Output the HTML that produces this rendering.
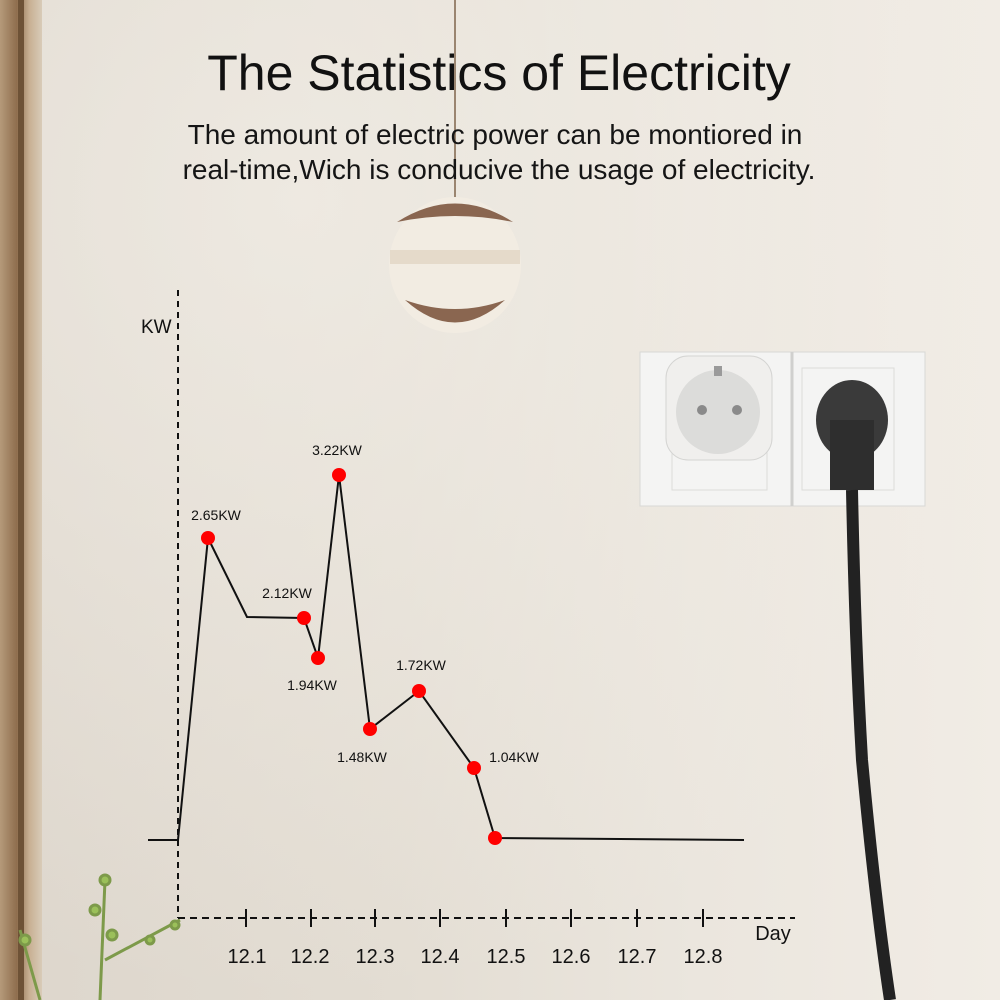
<!DOCTYPE html>
<html><head><meta charset="utf-8"><style>
html,body{margin:0;padding:0;width:1000px;height:1000px;overflow:hidden}
body{background:linear-gradient(90deg,#ddd6cc 0%,#e3ddd3 40%,#ebe6de 70%,#f1ece5 100%)}
svg{position:absolute;left:0;top:0}
</style></head><body>
<svg width="1000" height="1000" viewBox="0 0 1000 1000" font-family="'Liberation Sans',sans-serif">
<defs>
<linearGradient id="wood" x1="0" x2="1"><stop offset="0" stop-color="#b59a7a"/><stop offset="0.4" stop-color="#8f6e4e"/><stop offset="0.7" stop-color="#c8b093"/><stop offset="1" stop-color="#d8cbb8"/></linearGradient>
<radialGradient id="glow" cx="0.3" cy="0.2" r="0.8"><stop offset="0" stop-color="#f3efe8" stop-opacity="0.7"/><stop offset="1" stop-color="#f3efe8" stop-opacity="0"/></radialGradient>
</defs>
<rect x="0" y="0" width="1000" height="1000" fill="url(#glow)"/>
<rect x="0" y="0" width="42" height="1000" fill="url(#wood)"/>
<rect x="18" y="0" width="6" height="1000" fill="#6e5236"/>
<!-- lamp -->
<line x1="455" y1="0" x2="455" y2="210" stroke="#9a8570" stroke-width="2"/>
<ellipse cx="455" cy="265" rx="66" ry="68" fill="#f2ece2"/>
<path d="M397 222 Q455 185 513 222 Q455 210 397 222Z" fill="#8a6650"/>
<path d="M405 300 Q455 345 505 300 Q455 318 405 300Z" fill="#8a6650"/>
<rect x="390" y="250" width="130" height="14" fill="#e0d3c0" opacity="0.7"/>
<!-- socket panel -->
<rect x="640" y="352" width="285" height="154" fill="#f4f4f3" stroke="#d8d8d6"/>
<line x1="792" y1="352" x2="792" y2="506" stroke="#d0d0ce" stroke-width="3"/>
<rect x="672" y="368" width="95" height="122" fill="none" stroke="#dcdcda"/>
<rect x="802" y="368" width="92" height="122" fill="none" stroke="#dcdcda"/>
<rect x="666" y="356" width="106" height="104" rx="22" fill="#f0efed" stroke="#d4d4d2"/>
<circle cx="718" cy="412" r="42" fill="#dcdcda"/>
<circle cx="702" cy="410" r="5" fill="#8a8a8a"/><circle cx="737" cy="410" r="5" fill="#8a8a8a"/>
<rect x="714" y="366" width="8" height="10" fill="#9a9a9a"/>
<ellipse cx="852" cy="420" r="40" rx="36" ry="40" fill="#3a3a3a"/>
<rect x="830" y="420" width="44" height="70" fill="#2e2e2e"/>
<path d="M852 490 Q855 640 862 760 Q875 900 890 1000" stroke="#222" stroke-width="12" fill="none"/>
<!-- plant -->
<g stroke="#7d9a4a" stroke-width="3" fill="#9bc05a">
<path d="M100 1000 L105 880" fill="none"/><path d="M40 1000 L20 930" fill="none"/>
<path d="M105 960 L180 920" fill="none"/>
<circle cx="105" cy="880" r="5"/><circle cx="95" cy="910" r="5"/><circle cx="112" cy="935" r="5"/><circle cx="150" cy="940" r="4"/><circle cx="175" cy="925" r="4"/><circle cx="25" cy="940" r="5"/>
</g>
<!-- text -->
<text x="499" y="90" text-anchor="middle" font-size="50" fill="#111">The Statistics of Electricity</text>
<text x="495" y="144" text-anchor="middle" font-size="28" fill="#151515">The amount of electric power can be montiored in</text>
<text x="499" y="179" text-anchor="middle" font-size="28" fill="#151515">real-time,Wich is conducive the usage of electricity.</text>
<!-- axes -->
<line x1="178" y1="290" x2="178" y2="918" stroke="#111" stroke-width="2" stroke-dasharray="6,5"/>
<line x1="178" y1="918" x2="795" y2="918" stroke="#111" stroke-width="2" stroke-dasharray="7,5"/>
<g stroke="#111" stroke-width="2">
<line x1="246" y1="909" x2="246" y2="927"/><line x1="311" y1="909" x2="311" y2="927"/><line x1="375" y1="909" x2="375" y2="927"/><line x1="440" y1="909" x2="440" y2="927"/><line x1="506" y1="909" x2="506" y2="927"/><line x1="571" y1="909" x2="571" y2="927"/><line x1="637" y1="909" x2="637" y2="927"/><line x1="703" y1="909" x2="703" y2="927"/>
</g>
<g font-size="20" fill="#111" text-anchor="middle">
<text x="247" y="963">12.1</text><text x="310" y="963">12.2</text><text x="375" y="963">12.3</text><text x="440" y="963">12.4</text><text x="506" y="963">12.5</text><text x="571" y="963">12.6</text><text x="637" y="963">12.7</text><text x="703" y="963">12.8</text>
<text x="773" y="940">Day</text>
</g>
<text x="141" y="333" font-size="19" fill="#111">KW</text>
<polyline points="148,840 178,840 208,538 247,617 304,618 318,658 339,475 370,729 419,691 474,768 495,838 744,840" fill="none" stroke="#111" stroke-width="2"/>
<g fill="#f00">
<circle cx="208" cy="538" r="7"/><circle cx="304" cy="618" r="7"/><circle cx="318" cy="658" r="7"/><circle cx="339" cy="475" r="7"/><circle cx="370" cy="729" r="7"/><circle cx="419" cy="691" r="7"/><circle cx="474" cy="768" r="7"/><circle cx="495" cy="838" r="7"/>
</g>
<g font-size="14" fill="#111" text-anchor="middle">
<text x="216" y="520">2.65KW</text><text x="287" y="598">2.12KW</text><text x="312" y="690">1.94KW</text><text x="337" y="455">3.22KW</text><text x="362" y="762">1.48KW</text><text x="421" y="670">1.72KW</text><text x="514" y="762">1.04KW</text>
</g>
</svg>
</body></html>
